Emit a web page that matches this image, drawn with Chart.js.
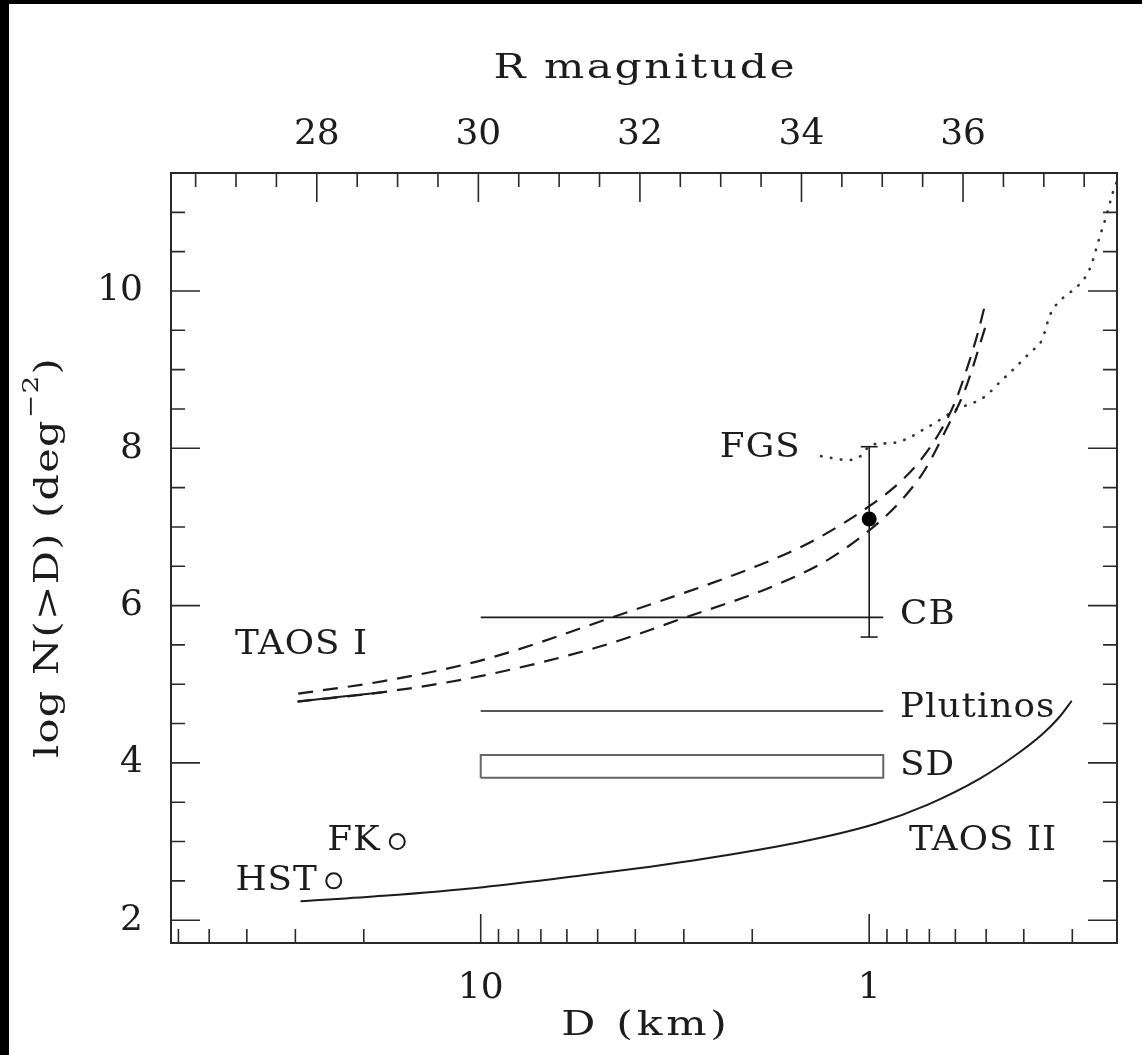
<!DOCTYPE html>
<html>
<head>
<meta charset="utf-8">
<script src="https://cdn.jsdelivr.net/npm/chart.js@4.4.1/dist/chart.umd.min.js"></script>
<style>
  html, body { margin: 0; padding: 0; background: #fff; }
  #wrap { position: relative; width: 1133px; height: 1051px; border-left: 9px solid #000; border-top: 4px solid #000; }
</style>
</head>
<body>
<div id="wrap"><canvas id="grafico"></canvas></div>
<script>
// values: D in km, N as log N(>D) per deg^2

const taos2D = [29.1, 17.8, 9.86, 5.46, 3.66, 2.66, 1.45, 0.957, 0.706, 0.519, 0.422, 0.359, 0.323, 0.301];
const taos2N = [2.24, 2.31, 2.42, 2.57, 2.68, 2.78, 3.01, 3.23, 3.47, 3.80, 4.09, 4.36, 4.59, 4.79];

const taos1D = [29.6, 23.0, 17.8];
const taos1N = [4.78, 4.84, 4.90];

const upperD = [29.5, 17.8, 9.86, 4.65, 1.74, 1.34, 0.995, 0.833, 0.740, 0.657, 0.601, 0.557, 0.525, 0.500];
const upperN = [4.88, 5.04, 5.31, 5.84, 6.60, 6.87, 7.27, 7.57, 7.84, 8.21, 8.59, 9.05, 9.47, 9.88];

const lowerD = [29.6, 17.8, 9.86, 4.93, 3.01, 1.78, 1.26, 0.929, 0.809, 0.718, 0.638, 0.567, 0.501];
const lowerN = [4.78, 4.90, 5.11, 5.48, 5.84, 6.24, 6.60, 7.09, 7.39, 7.73, 8.21, 8.74, 9.56];

const fgsD = [1.33, 1.13, 1.04, 0.995, 0.863, 0.706, 0.598, 0.506, 0.459, 0.422, 0.385, 0.359, 0.342, 0.316, 0.292, 0.270, 0.255, 0.244, 0.236, 0.230];
const fgsN = [7.90, 7.85, 7.92, 8.04, 8.07, 8.27, 8.49, 8.65, 8.85, 9.02, 9.22, 9.38, 9.70, 9.92, 10.05, 10.29, 10.69, 10.99, 11.25, 11.40];

const rangeD = [10, 0.92];          // extent of CB, Plutinos and SD marks
const cbN = 5.85;
const plutinosN = 4.66;
const sdN = [3.81, 4.10];

const errD = 1.0;
const errN = [5.60, 8.02];
const dotN = 7.10;

const openD = [23.9, 16.4];          // HST, FK
const openN = [2.50, 3.00];

const noteText = ['TAOS I', 'TAOS II', 'FGS', 'CB', 'Plutinos', 'SD', 'FK', 'HST'];
const noteD = [42.9, 0.790, 1.51, 0.833, 0.833, 0.833, 18.2, 26.4];
const noteN = [5.50, 3.00, 8.00, 5.88, 4.70, 3.96, 3.00, 2.50];
const noteAlign = ['left', 'left', 'right', 'left', 'left', 'left', 'right', 'right'];

// axes
const dMin = 0.2302, dMax = 62.7;
const dTicks = [0.3, 0.4, 0.5, 0.6, 0.7, 0.8, 0.9, 1, 2, 3, 4, 5, 6, 7, 8, 9, 10, 20, 30, 40, 50, 60];
const dLabels = [1, 10];
const magMin = 26.195, magMax = 37.906;
const magTicks = [26.5, 27, 27.5, 28, 28.5, 29, 29.5, 30, 30.5, 31, 31.5, 32, 32.5, 33, 33.5, 34, 34.5, 35, 35.5, 36, 36.5, 37, 37.5];
const magLabels = [28, 30, 32, 34, 36];
const nMin = 1.71, nMax = 11.5;
const nTicks = [2, 2.5, 3, 3.5, 4, 4.5, 5, 5.5, 6, 6.5, 7, 7.5, 8, 8.5, 9, 9.5, 10, 10.5, 11];
const nLabels = [2, 4, 6, 8, 10];

const ink = '#1c1c1c';
const serif = "'DejaVu Serif', 'Liberation Serif', serif";

function pts(xs, ys) {
    return xs.map((x, i) => ({ x: x, y: ys[i] }));
}

// text drawn a little wider than the font, like the plotting package's letters
function wideText(ctx, text, x, y, stretch, spacing, align) {
    ctx.save();
    ctx.letterSpacing = spacing + 'px';
    const w = (ctx.measureText(text).width - spacing) * stretch;
    let sx = x;
    if (align === 'center') sx = x - w / 2;
    if (align === 'right') sx = x - w;
    ctx.textAlign = 'left';
    ctx.translate(sx, y);
    ctx.scale(stretch, 1);
    ctx.fillText(text, 0, 0);
    ctx.restore();
    return w;
}

const inwardTicks = {
    id: 'inwardTicks',
    afterDraw(chart) {
        const { ctx, chartArea: a, scales } = chart;
        ctx.save();
        ctx.strokeStyle = '#2a2a2a';
        ctx.lineWidth = 1.6;
        ctx.beginPath();
        scales.x.ticks.forEach(t => {
            const p = scales.x.getPixelForValue(t.value);
            const len = t.label ? 29 : 14;
            ctx.moveTo(p, a.bottom);
            ctx.lineTo(p, a.bottom - len);
        });
        scales.x2.ticks.forEach(t => {
            const p = scales.x2.getPixelForValue(t.value);
            const len = t.label ? 29 : 14;
            ctx.moveTo(p, a.top);
            ctx.lineTo(p, a.top + len);
        });
        scales.y.ticks.forEach(t => {
            const p = scales.y.getPixelForValue(t.value);
            const len = t.label ? 29 : 14;
            ctx.moveTo(a.left, p);
            ctx.lineTo(a.left + len, p);
            ctx.moveTo(a.right, p);
            ctx.lineTo(a.right - len, p);
        });
        ctx.stroke();
        ctx.restore();
    }
};

const textLayer = {
    id: 'textLayer',
    afterDraw(chart) {
        const { ctx, chartArea: a, scales } = chart;
        ctx.save();
        ctx.fillStyle = ink;
        ctx.textBaseline = 'middle';
        ctx.font = '34px ' + serif;
        noteText.forEach((txt, i) => {
            const x = scales.x.getPixelForValue(noteD[i]);
            const y = scales.y.getPixelForValue(noteN[i]);
            wideText(ctx, txt, x, y, 1.05, 1, noteAlign[i]);
        });

        // axis titles
        const cx = (a.left + a.right) / 2;
        ctx.textBaseline = 'alphabetic';
        wideText(ctx, 'R magnitude', cx, 74, 1.25, 2, 'center');
        wideText(ctx, 'D (km)', cx, 1031, 1.25, 3, 'center');

        // y title, rotated, with superscript
        const cy = (a.top + a.bottom) / 2;
        const st = 1.22, sp = 1;
        ctx.translate(49, cy);
        ctx.rotate(-Math.PI / 2);
        ctx.letterSpacing = sp + 'px';
        ctx.font = '34px ' + serif;
        const w1 = ctx.measureText('log N(>D) (deg').width * st;
        const w3 = ctx.measureText(')').width * st;
        ctx.font = '23px ' + serif;
        const w2 = ctx.measureText('\u22122').width * st;
        const x0 = -(w1 + w2 + w3) / 2;
        ctx.font = '34px ' + serif;
        wideText(ctx, 'log N(>D) (deg', x0, 0, st, sp, 'left');
        ctx.font = '23px ' + serif;
        wideText(ctx, '\u22122', x0 + w1 + 1, -20, st, sp, 'left');
        ctx.font = '34px ' + serif;
        wideText(ctx, ')', x0 + w1 + w2 + 1, 0, st, sp, 'left');
        ctx.restore();
    }
};

const lineBase = { showLine: true, pointRadius: 0, borderColor: ink, backgroundColor: ink, xAxisID: 'x', yAxisID: 'y' };

new Chart('grafico', {
    type: 'scatter',
    data: {
        datasets: [
            Object.assign({}, lineBase, {
                label: 'HST / FK', data: pts(openD, openN), showLine: false,
                pointRadius: 7.5, pointBorderWidth: 2, backgroundColor: '#fff', borderColor: ink
            }),
            Object.assign({}, lineBase, {
                label: 'measurement', data: [{ x: errD, y: dotN }], showLine: false,
                pointRadius: 7.5, pointBorderWidth: 0, backgroundColor: '#000'
            }),
            Object.assign({}, lineBase, {
                label: 'error bar', data: [{ x: errD, y: errN[0] }, { x: errD, y: errN[1] }],
                borderWidth: 1.6, pointStyle: 'line', pointRadius: 8.5, pointBorderWidth: 1.6
            }),
            Object.assign({}, lineBase, {
                label: 'TAOS II', data: pts(taos2D, taos2N), borderWidth: 2, cubicInterpolationMode: 'monotone'
            }),
            Object.assign({}, lineBase, {
                label: 'TAOS I', data: pts(taos1D, taos1N), borderWidth: 2, cubicInterpolationMode: 'monotone'
            }),
            Object.assign({}, lineBase, {
                label: 'upper', data: pts(upperD, upperN), borderWidth: 2.2, borderDash: [15, 10],
                cubicInterpolationMode: 'monotone'
            }),
            Object.assign({}, lineBase, {
                label: 'lower', data: pts(lowerD, lowerN), borderWidth: 2.2, borderDash: [15, 10],
                cubicInterpolationMode: 'monotone'
            }),
            Object.assign({}, lineBase, {
                label: 'FGS', data: pts(fgsD, fgsN), borderWidth: 2.6, borderDash: [0.5, 9.5],
                borderCapStyle: 'round', borderColor: '#333', cubicInterpolationMode: 'monotone'
            }),
            Object.assign({}, lineBase, {
                label: 'CB', data: pts(rangeD, [cbN, cbN]), borderWidth: 1.6
            }),
            Object.assign({}, lineBase, {
                label: 'Plutinos', data: pts(rangeD, [plutinosN, plutinosN]), borderWidth: 1.6
            }),
            Object.assign({}, lineBase, {
                label: 'SD',
                data: pts([rangeD[0], rangeD[1], rangeD[1], rangeD[0], rangeD[0]], [sdN[0], sdN[0], sdN[1], sdN[1], sdN[0]]),
                borderWidth: 2, borderColor: '#666'
            })
        ]
    },
    options: {
        responsive: true,
        maintainAspectRatio: false,
        animation: false,
        events: [],
        layout: { padding: 0 },
        font: { family: serif },
        plugins: { legend: { display: false }, tooltip: { enabled: false } },
        scales: {
            x: {
                type: 'logarithmic', position: 'bottom', reverse: true, min: dMin, max: dMax,
                grid: { display: false, drawTicks: false },
                border: { display: true, color: '#2a2a2a', width: 2 },
                ticks: {
                    autoSkip: false, maxRotation: 0, minRotation: 0, padding: 28, color: ink,
                    font: { family: serif, size: 36, lineHeight: 1 },
                    callback: v => dLabels.includes(v) ? String(v) : ''
                },
                afterBuildTicks: s => { s.ticks = dTicks.map(v => ({ value: v })); },
                afterFit: s => { s.height = 112; }
            },
            x2: {
                type: 'linear', position: 'top', min: magMin, max: magMax,
                grid: { display: false, drawTicks: false },
                border: { display: true, color: '#2a2a2a', width: 2 },
                ticks: {
                    autoSkip: false, maxRotation: 0, minRotation: 0, padding: 20, color: ink,
                    font: { family: serif, size: 36, lineHeight: 1 },
                    callback: v => magLabels.includes(v) ? String(v) : ''
                },
                afterBuildTicks: s => { s.ticks = magTicks.map(v => ({ value: v })); },
                afterFit: s => { s.height = 169; }
            },
            y: {
                type: 'linear', position: 'left', min: nMin, max: nMax,
                grid: { display: false, drawTicks: false },
                border: { display: true, color: '#2a2a2a', width: 2 },
                ticks: {
                    autoSkip: false, padding: 28, color: ink,
                    font: { family: serif, size: 36, lineHeight: 1 },
                    callback: v => nLabels.includes(v) ? String(v) : ''
                },
                afterBuildTicks: s => { s.ticks = nTicks.map(v => ({ value: v })); },
                afterFit: s => { s.width = 162; }
            },
            y2: {
                type: 'linear', position: 'right', min: nMin, max: nMax,
                grid: { display: false, drawTicks: false },
                border: { display: true, color: '#2a2a2a', width: 2 },
                ticks: { display: false },
                afterFit: s => { s.width = 25; }
            }
        }
    },
    plugins: [inwardTicks, textLayer]
});
</script>
</body>
</html>
